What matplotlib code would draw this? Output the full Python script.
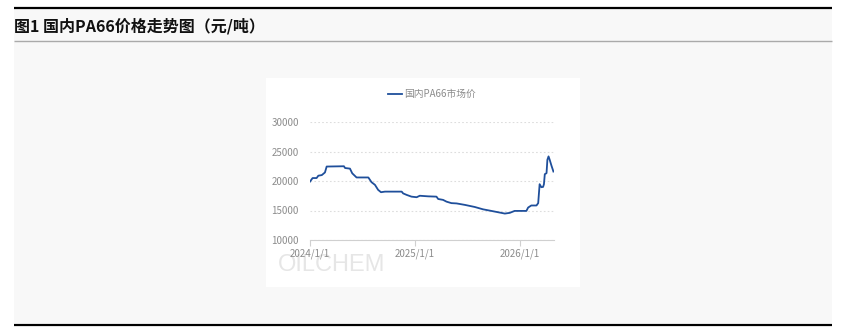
import matplotlib
matplotlib.use("Agg")
import matplotlib.pyplot as plt
import pandas as pd
from matplotlib.patches import Rectangle

plt.rcParams['font.family'] = ['Noto Sans CJK SC', 'DejaVu Sans']

# 国内PA66市场价 (元/吨)
dates = ["2024-01-01", "2024-01-10", "2024-01-24", "2024-01-30", "2024-02-11",
         "2024-02-22", "2024-02-28", "2024-04-28", "2024-05-02", "2024-05-19",
         "2024-05-27", "2024-06-11", "2024-07-22", "2024-08-02", "2024-08-14",
         "2024-08-25", "2024-09-04", "2024-09-18", "2024-11-15", "2024-11-20",
         "2024-12-02", "2024-12-19", "2025-01-06", "2025-01-17", "2025-02-15",
         "2025-03-16", "2025-03-22", "2025-04-08", "2025-04-20", "2025-05-07",
         "2025-05-25", "2025-06-23", "2025-07-27", "2025-08-25", "2025-09-23",
         "2025-10-17", "2025-11-09", "2025-11-26", "2025-12-13", "2026-01-06",
         "2026-01-23", "2026-01-29", "2026-02-09", "2026-02-27", "2026-03-05",
         "2026-03-10", "2026-03-16", "2026-03-22", "2026-03-25", "2026-03-28",
         "2026-04-03", "2026-04-06", "2026-04-10", "2026-04-14", "2026-04-20",
         "2026-04-27"]
prices = [19900, 20500, 20500, 20900, 21000,
          21450, 22450, 22500, 22200, 22100,
          21300, 20600, 20600, 19800, 19350,
          18500, 18100, 18200, 18200, 17900,
          17650, 17350, 17250, 17500, 17400,
          17350, 16950, 16800, 16500, 16250,
          16200, 15950, 15600, 15200, 14930,
          14700, 14480, 14600, 14930, 14930,
          14930, 15500, 15850, 15850, 16250,
          19460, 18950, 19000, 19460, 21160,
          21330, 23600, 24170, 23600, 22630,
          21600]
series_name = "国内PA66市场价"
title = "图1 国内PA66价格走势图（元/吨）"
yticks = [10000, 15000, 20000, 25000, 30000]
xticks = ["2024-01-01", "2025-01-01", "2026-01-01"]
xticklabels = ["2024/1/1", "2025/1/1", "2026/1/1"]

W, H = 845, 328
fig = plt.figure(figsize=(W / 100, H / 100), dpi=100)
fig.patch.set_facecolor("white")

# page frame drawn in pixel coordinates
bg = fig.add_axes([0, 0, 1, 1])
bg.set_xlim(0, W)
bg.set_ylim(H, 0)
bg.axis("off")
bg.add_patch(Rectangle((14, 9), 818, 314, facecolor="#f8f8f8", edgecolor="none"))
bg.plot([14, 832], [8, 8], color="black", lw=1.6, solid_capstyle="butt")
bg.plot([14, 832], [41, 41], color="#aaaaaa", lw=1.0, solid_capstyle="butt")
bg.plot([14, 832], [324.5, 324.5], color="black", lw=1.6, solid_capstyle="butt")
bg.text(14, 26, title, fontsize=11.5, fontweight="bold", color="#111111",
        va="center", ha="left")
bg.add_patch(Rectangle((266, 78), 314, 209, facecolor="white", edgecolor="none"))
bg.text(278, 265, "OILCHEM", fontsize=17, color="#e6e6e6",
        family=["Liberation Sans", "DejaVu Sans"], va="center", ha="left")

# chart axes
x0, x1 = 310, 554
y_top, y_bot = 122, 240
ax = fig.add_axes([x0 / W, (H - y_bot) / H, (x1 - x0) / W, (y_bot - y_top) / H])
ax.patch.set_alpha(0)

d = pd.to_datetime(dates)
ax.plot(d, prices, color="#1f4f9b", lw=1.3, label=series_name)

ax.set_ylim(10000, 30000)
ax.set_xlim(pd.Timestamp("2024-01-01"), pd.Timestamp("2026-04-29"))
ax.set_yticks(yticks)
ax.set_xticks(pd.to_datetime(xticks))
ax.set_xticklabels(xticklabels)
for sp in ["top", "right", "left"]:
    ax.spines[sp].set_visible(False)
ax.spines["bottom"].set_color("#d0d0d0")
ax.spines["bottom"].set_linewidth(0.8)
ax.tick_params(axis="y", length=0, pad=8, labelsize=7, labelcolor="#8c8c8c")
ax.tick_params(axis="x", length=4, width=0.8, color="#d0d0d0", pad=2,
               labelsize=7, labelcolor="#8c8c8c")
ax.yaxis.grid(True, color="#dddddd", linestyle=(0, (1.5, 2)), lw=0.8)
ax.set_axisbelow(True)

leg = ax.legend(loc="center", bbox_to_anchor=(432 / W, (H - 94) / H),
                bbox_transform=fig.transFigure, frameon=False, fontsize=7,
                handlelength=1.4, handletextpad=0.2)
for t in leg.get_texts():
    t.set_color("#8c8c8c")

fig.savefig("out.png", dpi=100)
